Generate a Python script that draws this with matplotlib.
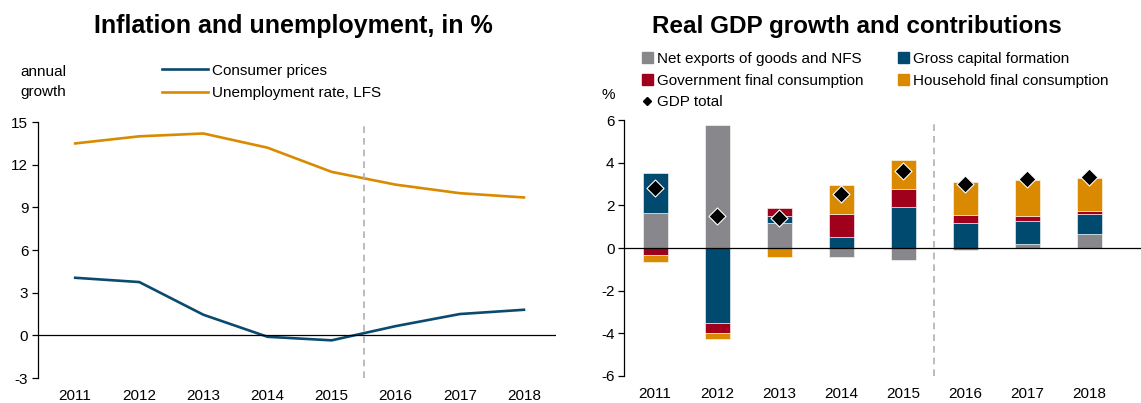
import matplotlib as mpl
mpl.rcParams['font.family'] = ['Liberation Sans', 'DejaVu Sans']
mpl.rcParams['axes.unicode_minus'] = False
import matplotlib.pyplot as plt
from matplotlib.lines import Line2D
from matplotlib.patches import Patch
import numpy as np

years = ['2011', '2012', '2013', '2014', '2015', '2016', '2017', '2018']

# left chart, in %
consumer_prices = [4.05, 3.75, 1.45, -0.1, -0.35, 0.65, 1.5, 1.8]
unemployment = [13.5, 14.0, 14.2, 13.2, 11.5, 10.6, 10.0, 9.7]

# right chart, contributions in p.p.
net_exports = [1.66, 5.77, 1.17, -0.41, -0.55, -0.08, 0.19, 0.66]
gross_capital = [1.84, -3.53, 0.33, 0.53, 1.94, 1.16, 1.06, 0.92]
gov_cons = [-0.33, -0.45, 0.39, 1.08, 0.84, 0.39, 0.27, 0.17]
hh_cons = [-0.33, -0.27, -0.44, 1.33, 1.33, 1.53, 1.67, 1.52]
gdp_total = [2.83, 1.52, 1.42, 2.52, 3.6, 3.0, 3.22, 3.34]

BLUE = '#0b4a6f'
ORANGE = '#d98a00'
RED = '#a1001c'
GRAY = '#88888c'
BAR_BLUE = '#004a70'

fig = plt.figure(figsize=(11.41, 4.03), dpi=100)

# ---------------- left: inflation and unemployment ----------------
ax1 = fig.add_axes([0.0333, 0.062, 0.454, 0.635])
x = np.arange(len(years))
ax1.plot(x, consumer_prices, color=BLUE, lw=1.9)
ax1.plot(x, unemployment, color=ORANGE, lw=1.9)
ax1.axhline(0, color='black', lw=0.9)
ax1.axvline(4.5, color='#b0b0b0', lw=1.2, ls=(0, (4, 3)))
ax1.set_xlim(-0.58, 7.5)
ax1.set_ylim(-3, 15)
ax1.set_yticks(range(-3, 16, 3))
ax1.set_xticks(x)
ax1.set_xticklabels(years)
for s in ['top', 'right', 'bottom']:
    ax1.spines[s].set_visible(False)
ax1.spines['left'].set_linewidth(0.9)
ax1.tick_params(axis='y', labelsize=11, length=4, width=0.9, pad=3)
ax1.tick_params(axis='x', labelsize=11, length=0, pad=8)

fig.text(0.257, 0.935, 'Inflation and unemployment, in %', ha='center', va='center',
         fontsize=18, fontweight='bold')
fig.text(0.018, 0.797, 'annual\ngrowth', ha='left', va='center', fontsize=11, linespacing=1.55)
h1 = [Line2D([], [], color=BLUE, lw=1.9), Line2D([], [], color=ORANGE, lw=1.9)]
fig.legend(h1, ['Consumer prices', 'Unemployment rate, LFS'], loc='center left',
           bbox_to_anchor=(0.135, 0.797), frameon=False, fontsize=11, handlelength=3.0,
           handletextpad=0.3, labelspacing=0.55, borderpad=0)

# ---------------- right: GDP contributions ----------------
ax2 = fig.add_axes([0.547, 0.067, 0.453, 0.635])
series = [net_exports, gross_capital, gov_cons, hh_cons]
colors = [GRAY, BAR_BLUE, RED, ORANGE]
pos_base = np.zeros(len(years))
neg_base = np.zeros(len(years))
for vals, c in zip(series, colors):
    v = np.array(vals)
    base = np.where(v >= 0, pos_base, neg_base)
    ax2.bar(x, v, bottom=base, width=0.4, color=c, edgecolor='white', linewidth=0.4)
    pos_base = pos_base + np.where(v >= 0, v, 0)
    neg_base = neg_base + np.where(v < 0, v, 0)
ax2.scatter(x, gdp_total, marker='D', s=75, color='black', edgecolor='white',
            linewidth=0.8, zorder=5)
ax2.axhline(0, color='black', lw=0.9)
ax2.axvline(4.5, color='#b0b0b0', lw=1.2, ls=(0, (4, 3)))
ax2.set_xlim(-0.5, 7.83)
ax2.set_ylim(-6, 6)
ax2.set_yticks(range(-6, 7, 2))
ax2.set_xticks(x)
ax2.set_xticklabels(years)
for s in ['top', 'right', 'bottom']:
    ax2.spines[s].set_visible(False)
ax2.spines['left'].set_linewidth(0.9)
ax2.tick_params(axis='y', labelsize=11, length=4, width=0.9, pad=3)
ax2.tick_params(axis='x', labelsize=11, length=0, pad=8)

fig.text(0.751, 0.935, 'Real GDP growth and contributions', ha='center', va='center',
         fontsize=17.5, fontweight='bold')
fig.text(0.527, 0.765, '%', ha='left', va='center', fontsize=11)
h2 = [Patch(color=GRAY), Patch(color=RED),
      Line2D([], [], marker='D', color='black', ls='none', markersize=4),
      Patch(color=BAR_BLUE), Patch(color=ORANGE)]
l2 = ['Net exports of goods and NFS', 'Government final consumption', 'GDP total',
      'Gross capital formation', 'Household final consumption']
fig.legend(h2, l2, loc='upper left', bbox_to_anchor=(0.556, 0.89), ncol=2,
           frameon=False, fontsize=11, handlelength=0.7, handleheight=0.7,
           handletextpad=0.25, labelspacing=0.5, columnspacing=2.3, borderpad=0)

fig.savefig('out.png', dpi=100)
